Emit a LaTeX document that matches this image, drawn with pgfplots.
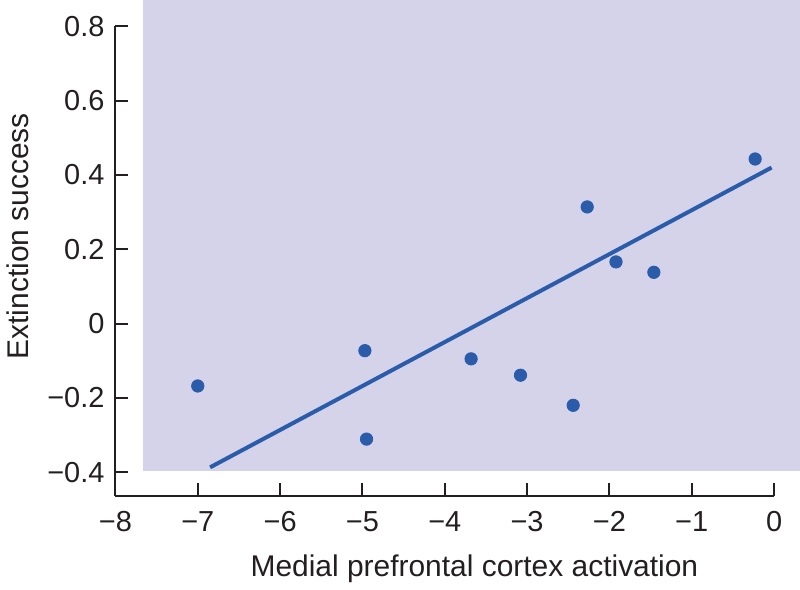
\documentclass[border=0pt]{standalone}
\usepackage{pgfplots}
\pgfplotsset{compat=1.18}
\usepackage{fontspec}
\setmainfont{Liberation Sans}
\definecolor{bgcol}{HTML}{D4D3EA}
\definecolor{dotcol}{HTML}{2A5CAA}
\definecolor{txt}{HTML}{231F20}
\begin{document}
\begin{tikzpicture}
\begin{axis}[
  scale only axis,
  width=330pt, height=235.2pt,
  xmin=-8, xmax=0, ymin=-0.4637, ymax=0.8,
  clip=false,
  axis x line*=bottom, axis y line*=left,
  axis line style={line width=1pt, -, txt},
  tick style={line width=1pt, txt},
  major tick length=6.5pt,
  tick align=inside,
  xtick={-8,-7,-6,-5,-4,-3,-2,-1,0},
  xticklabels={−8,−7,−6,−5,−4,−3,−2,−1,0},
  ytick={-0.4,-0.2,0,0.2,0.4,0.6,0.8},
  yticklabels={−0.4,−0.2,0,0.2,0.4,0.6,0.8},
  ticklabel style={font=\fontsize{14.5}{16}\selectfont, text=txt},
  xticklabel style={yshift=-4.2pt},
  yticklabel style={xshift=-2pt},
  xlabel={Medial prefrontal cortex activation},
  ylabel={Extinction success},
  label style={font=\fontsize{15}{17}\selectfont, text=txt},
  xlabel style={at={(rel axis cs:0.545,0)}, anchor=base, yshift=-40.5pt},
  ylabel style={at={(rel axis cs:0,0.553)}, anchor=center, yshift=49pt},
]
\fill[bgcol] (axis cs:-7.66,-0.397) rectangle (axis cs:0.315,0.871);
\addplot[only marks, mark=*, mark size=3.1pt, color=dotcol, mark options={draw=dotcol, fill=dotcol}] coordinates {
(-7.00,-0.168) (-4.97,-0.073) (-4.95,-0.311) (-3.68,-0.095) (-3.08,-0.139)
(-2.44,-0.220) (-2.27,0.314) (-1.92,0.166) (-1.46,0.138) (-0.23,0.443)
};
\addplot[no marks, line width=2pt, color=dotcol] coordinates {(-6.85,-0.387) (-0.03,0.420)};
\end{axis}
\end{tikzpicture}
\end{document}
